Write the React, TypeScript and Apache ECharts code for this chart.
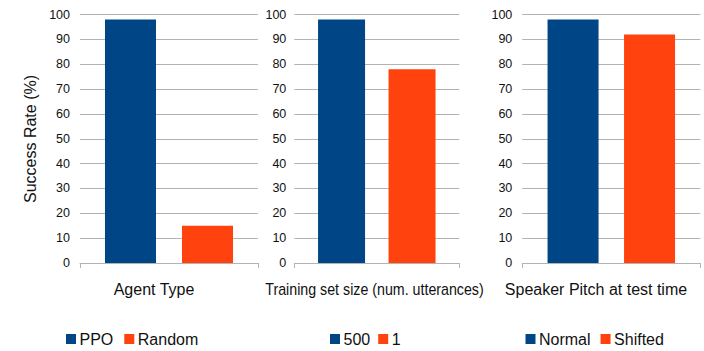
import React, { useEffect, useRef } from "react";
import * as echarts from "echarts";

const panelNames = ["Agent Type", "Training set size (num. utterances)", "Speaker Pitch at test time"];
const seriesNamesA = ["PPO", "Random"];
const seriesNamesB = ["500", "1"];
const seriesNamesC = ["Normal", "Shifted"];
const valuesA = [98, 15];
const valuesB = [98, 78];
const valuesC = [98, 92];
const yTicks = { min: 0, max: 100, interval: 10 };
const yAxisTitle = "Success Rate (%)";

const BLUE = "#004586";
const ORANGE = "#ff420e";
const GRIDC = "#b3b3b3";
const FONT = "Liberation Sans";

export default function App() {
  const ref = useRef<HTMLDivElement>(null);
  useEffect(() => {
    if (!ref.current) return;
    const chart = echarts.init(ref.current, undefined, { renderer: "svg" });
    const grids = [
      { left: 80, width: 178, bw: 51, gap: "51%", lm: 10, names: seriesNamesA, vals: valuesA, legendLeft: 66, nameX: 154, sx: 1, gapL: 11 },
      { left: 294.3, width: 165, bw: 47, gap: "50%", lm: 8, names: seriesNamesB, vals: valuesB, legendLeft: 330, nameX: 374.5, sx: 0.89, gapL: 8 },
      { left: 522.3, width: 178, bw: 51, gap: "50%", lm: 10, names: seriesNamesC, vals: valuesC, legendLeft: 525.5, nameX: 596, sx: 1, gapL: 10 },
    ];
    const top = 14.5;
    const bottomY = 263;
    const option: any = {
      animation: false,
      backgroundColor: "#fff",
      grid: grids.map((g) => ({ left: g.left, width: g.width, top, height: bottomY - top })),
      xAxis: grids.map((g, i) => ({
        type: "category",
        gridIndex: i,
        data: [""],
        axisLine: { lineStyle: { color: GRIDC, width: 1 } },
        axisTick: { show: true, length: 5, lineStyle: { color: GRIDC } },
        axisLabel: { show: false },
        splitLine: { show: false },
      })),
      yAxis: grids.map((g, i) => ({
        type: "value",
        gridIndex: i,
        min: yTicks.min,
        max: yTicks.max,
        interval: yTicks.interval,
        axisLine: { show: false },
        axisTick: { show: false },
        axisLabel: { margin: g.lm, color: "#111", fontFamily: FONT, fontSize: 12.5 },
        splitLine: { lineStyle: { color: GRIDC, width: 1 } },
      })),
      legend: grids.map((g) => ({
        data: g.names,
        left: g.legendLeft,
        top: 331,
        padding: 0,
        icon: "rect",
        itemWidth: 10,
        itemHeight: 10,
        itemGap: g.gapL,
        textStyle: { fontFamily: FONT, fontSize: 16, color: "#111", padding: [0, 0, 0, -1.5] },
      })),
      series: grids.flatMap((g, i) =>
        g.names.map((n, j) => ({
          type: "bar",
          name: n,
          xAxisIndex: i,
          yAxisIndex: i,
          data: [g.vals[j]],
          barWidth: g.bw,
          barGap: g.gap,
          itemStyle: { color: j === 0 ? BLUE : ORANGE },
        }))
      ),
      graphic: [
        ...grids.map((g, i) => ({
          type: "text",
          x: g.nameX,
          y: 289.5,
          scaleX: g.sx,
          style: { text: panelNames[i], align: "center", verticalAlign: "middle", font: `16px "${FONT}"`, fill: "#111" },
        })),
        {
          type: "text",
          x: 30,
          y: 139,
          rotation: Math.PI / 2,
          style: { text: yAxisTitle, align: "center", verticalAlign: "middle", font: `16px "${FONT}"`, fill: "#111" },
        },
      ],
    };
    chart.setOption(option);
    return () => chart.dispose();
  }, []);
  return <div ref={ref} style={{ position: "fixed", left: 0, top: 0, width: 704, height: 351 }} />;
}
